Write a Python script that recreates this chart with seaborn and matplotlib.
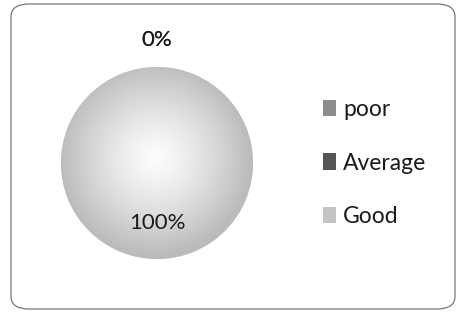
import numpy as np
import pandas as pd
import seaborn as sns
import matplotlib.pyplot as plt
from matplotlib.patches import FancyBboxPatch, Patch

# Data
categories = ['poor', 'Average', 'Good']
shares = [0, 0, 100]
colors = ['#8c8c8c', '#555555', '#c4c4c4']

df = pd.DataFrame({'category': categories, 'share': shares})

sns.set_theme(style='white')
plt.rcParams['font.family'] = ['Lato', 'DejaVu Sans']

W, H = 459, 316
fig = plt.figure(figsize=(W / 100, H / 100), dpi=100)
fig.patch.set_facecolor('white')

# rounded frame around chart
frame = FancyBboxPatch((11 / W, 7 / H), 444 / W, 305 / H,
                       boxstyle='round,pad=0,rounding_size=0.04',
                       transform=fig.transFigure, fill=False,
                       edgecolor='#777777', linewidth=0.9)
fig.patches.append(frame)

# pie axes: centre (157,163), radius 96 px
cx, cy, r = 157, 163, 96
ax = fig.add_axes([(cx - r) / W, (H - cy - r) / H, 2 * r / W, 2 * r / H])
wedges, _ = ax.pie(df['share'], colors=colors, startangle=90,
                   counterclock=False, radius=1,
                   wedgeprops=dict(linewidth=0))
ax.set_xlim(-1, 1)
ax.set_ylim(-1, 1)
ax.set_aspect('equal')
ax.axis('off')

# soft radial shading on the big slice
yy, xx = np.mgrid[-1:1:300j, -1:1:300j]
rr = np.sqrt((xx + 0.02) ** 2 + (yy - 0.05) ** 2)
shade = np.clip(rr, 0, 1) ** 1.3
for w, v in zip(wedges, df['share']):
    if v > 0:
        img = ax.imshow(shade, extent=(-1, 1, -1, 1), cmap='gray_r',
                        vmin=-0.05, vmax=3.9, origin='lower', zorder=2)
        img.set_clip_path(w)

# percentage labels
for w, v in zip(wedges, df['share']):
    mid = np.deg2rad((w.theta1 + w.theta2) / 2)
    d = 1.28 if v == 0 else 0.62
    ax.text(d * np.cos(mid), d * np.sin(mid), f'{v:.0f}%',
            ha='center', va='center', fontsize=16, color='#1a1a1a', zorder=3)

handles = [Patch(facecolor=c, edgecolor='none') for c in colors]
fig.legend(handles, categories, loc='center left',
           bbox_to_anchor=(302 / W, (H - 163) / H), frameon=False,
           fontsize=16.5, handlelength=0.6, handleheight=0.7,
           handletextpad=0.3, labelspacing=1.4, labelcolor='#1a1a1a')

fig.savefig('out.png', dpi=100)
